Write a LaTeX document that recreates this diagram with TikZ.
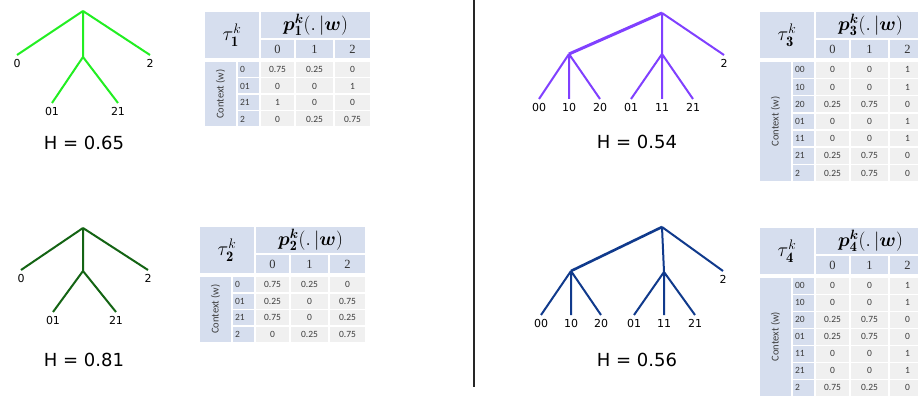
\documentclass[tikz,border=0pt]{standalone}
\usepackage{amsmath}
\usepackage{graphicx}
\usepackage{fontspec}
\newfontfamily\cfont{Carlito}
\newfontfamily\vfont{DejaVu Sans}
\newfontfamily\sfont{Liberation Serif}
\definecolor{hdrblue}{RGB}{214,222,238}
\definecolor{datgray}{RGB}{240,240,240}
\definecolor{tgreen}{RGB}{34,238,34}
\definecolor{tdgreen}{RGB}{20,100,20}
\definecolor{tpurple}{RGB}{128,64,255}
\definecolor{tnavy}{RGB}{16,58,140}
\definecolor{celltext}{RGB}{60,60,60}

\tikzset{
 cell/.style={rectangle, inner sep=0pt, outer sep=0pt, font=\cfont\fontsize{9.5}{10}\selectfont, text=celltext},
 hdr/.style={cell, fill=hdrblue},
 dat/.style={cell, fill=datgray},
 colhead/.style={hdr, minimum height=18pt, text=black!80, font=\sfont\fontsize{12.5}{13}\selectfont},
 branch/.style={line width=2pt},
 leaflab/.style={anchor=north, inner sep=0pt, yshift=-4.5pt, font=\vfont\fontsize{11}{12}\selectfont},
 hlab/.style={font=\vfont\fontsize{18}{20}\selectfont, inner sep=0pt},
}

% #1 id, #2 x0, #3 y0, #4 subscript, #5 nrows, #6 pitch, #7 rows
\newcommand\mytable[7]{%
\begin{scope}[shift={(#2,#3)}]
 \node[hdr, minimum width=54pt, minimum height=46pt, text=black, font=\fontsize{18}{20}\selectfont] (#1-tau) at (27,23) {\scalebox{1.15}{$\tau_{\mathbf{#4}}^{k}$}};
 \node[hdr, minimum width=109pt, minimum height=26pt, text=black, font=\fontsize{18}{20}\selectfont] (#1-p) at (110.5,13) {\scalebox{1.12}{$\boldsymbol{p}_{\mathbf{#4}}^{\boldsymbol{k}}(.\,|\boldsymbol{w})$}};
 \node[colhead, minimum width=33pt] (#1-h0) at (72.5,37) {0};
 \node[colhead, minimum width=37pt] (#1-h1) at (109.5,37) {1};
 \node[colhead, minimum width=35pt] (#1-h2) at (147.5,37) {2};
 \pgfmathsetmacro\ctxh{#5*#6-1.5}
 \pgfmathsetmacro\ctxy{50+\ctxh/2}
 \node[hdr, minimum width=\ctxh pt, minimum height=31pt, rotate=90, font=\cfont\fontsize{10.5}{12}\selectfont] (#1-ctx) at (15.5,\ctxy) {Context (w)};
 \foreach \lab/\a/\b/\c [count=\i] in {#7} {
   \pgfmathsetmacro\yc{50+(\i-1)*#6+(#6-1.5)/2}
   \pgfmathsetmacro\rh{#6-1.5}
   \node[hdr, minimum width=21pt, minimum height=\rh pt, text width=17pt, align=left] (#1-r\i-lab) at (43.5,\yc) {\lab};
   \node[dat, minimum width=33pt, minimum height=\rh pt] (#1-r\i-c0) at (72.5,\yc) {\a};
   \node[dat, minimum width=37pt, minimum height=\rh pt] (#1-r\i-c1) at (109.5,\yc) {\b};
   \node[dat, minimum width=35pt, minimum height=\rh pt] (#1-r\i-c2) at (147.5,\yc) {\c};
 }
\end{scope}}

\begin{document}
\begin{tikzpicture}[x=1pt,y=-1pt]
\fill[white] (0,0) rectangle (918,398);
\useasboundingbox (0,0) rectangle (918,398);

% ---------- Tree 1 ----------
\coordinate (t1r) at (83,11);
\coordinate (t1e0) at (17,55);
\coordinate (t1e2) at (150,55);
\coordinate (t1m) at (83,57);
\coordinate (t1e01) at (52,103);
\coordinate (t1e21) at (118,103);
\draw[branch, tgreen] (t1r) -- (t1e0) (t1r) -- (t1e2) (t1r) -- (t1m) (t1m) -- (t1e01) (t1m) -- (t1e21);
\node[leaflab] (t1l0) at (t1e0) {0};
\node[leaflab] (t1l2) at (t1e2) {2};
\node[leaflab] (t1l01) at (t1e01) {01};
\node[leaflab] (t1l21) at (t1e21) {21};
\node[hlab] (t1h) at (84,143) {H = 0.65};

% ---------- Tree 2 ----------
\coordinate (t2r) at (83,228);
\coordinate (t2e0) at (21,270);
\coordinate (t2e2) at (148,270);
\coordinate (t2m) at (83,271);
\coordinate (t2e01) at (53,312);
\coordinate (t2e21) at (116,312);
\draw[branch, tdgreen] (t2r) -- (t2e0) (t2r) -- (t2e2) (t2r) -- (t2m) (t2m) -- (t2e01) (t2m) -- (t2e21);
\node[leaflab] (t2l0) at (t2e0) {0};
\node[leaflab] (t2l2) at (t2e2) {2};
\node[leaflab] (t2l01) at (t2e01) {01};
\node[leaflab] (t2l21) at (t2e21) {21};
\node[hlab] (t2h) at (84,360) {H = 0.81};

% ---------- Tree 3 ----------
\coordinate (t3r) at (662,13);
\coordinate (t3a) at (569,54);
\coordinate (t3b) at (662,54);
\coordinate (t3e2) at (724,55);
\coordinate (t3e00) at (539,99);
\coordinate (t3e10) at (569,99);
\coordinate (t3e20) at (600,99);
\coordinate (t3e01) at (631,99);
\coordinate (t3e11) at (662,99);
\coordinate (t3e21) at (693,99);
\draw[line width=3pt, tpurple] (t3r) -- (t3a);
\draw[branch, tpurple] (t3r) -- (t3b) (t3r) -- (t3e2)
  (t3a) -- (t3e00) (t3a) -- (t3e10) (t3a) -- (t3e20)
  (t3b) -- (t3e01) (t3b) -- (t3e11) (t3b) -- (t3e21);
\node[leaflab] (t3l2) at (t3e2) {2};
\node[leaflab] (t3l00) at (t3e00) {00};
\node[leaflab] (t3l10) at (t3e10) {10};
\node[leaflab] (t3l20) at (t3e20) {20};
\node[leaflab] (t3l01) at (t3e01) {01};
\node[leaflab] (t3l11) at (t3e11) {11};
\node[leaflab] (t3l21) at (t3e21) {21};
\node[hlab] (t3h) at (637,142) {H = 0.54};

% ---------- Tree 4 ----------
\coordinate (t4r) at (662,227);
\coordinate (t4a) at (571,271);
\coordinate (t4b) at (664,272);
\coordinate (t4e2) at (723,271);
\coordinate (t4e00) at (541,315);
\coordinate (t4e10) at (571,315);
\coordinate (t4e20) at (601,315);
\coordinate (t4e01) at (634,315);
\coordinate (t4e11) at (664,315);
\coordinate (t4e21) at (695,315);
\draw[line width=2.6pt, tnavy] (t4r) -- (t4a);
\draw[branch, tnavy] (t4r) -- (t4b) (t4r) -- (t4e2)
  (t4a) -- (t4e00) (t4a) -- (t4e10) (t4a) -- (t4e20)
  (t4b) -- (t4e01) (t4b) -- (t4e11) (t4b) -- (t4e21);
\node[leaflab] (t4l2) at (t4e2) {2};
\node[leaflab] (t4l00) at (t4e00) {00};
\node[leaflab] (t4l10) at (t4e10) {10};
\node[leaflab] (t4l20) at (t4e20) {20};
\node[leaflab] (t4l01) at (t4e01) {01};
\node[leaflab] (t4l11) at (t4e11) {11};
\node[leaflab] (t4l21) at (t4e21) {21};
\node[hlab] (t4h) at (637,360) {H = 0.56};

% ---------- Divider ----------
\coordinate (dtop) at (474,0);
\coordinate (dbot) at (474,387);
\draw[line width=1.5pt, black!85] (dtop) -- (dbot);

% ---------- Tables ----------
\mytable{tab1}{205}{12}{1}{4}{16.5}{0/0.75/0.25/0, 01/0/0/1, 21/1/0/0, 2/0/0.25/0.75}
\mytable{tab2}{200}{227}{2}{4}{16.5}{0/0.75/0.25/0, 01/0.25/0/0.75, 21/0.75/0/0.25, 2/0/0.25/0.75}
\mytable{tab3}{760}{12}{3}{7}{17.2}{00/0/0/1, 10/0/0/1, 20/0.25/0.75/0, 01/0/0/1, 11/0/0/1, 21/0.25/0.75/0, 2/0.25/0.75/0}
\mytable{tab4}{760}{228}{4}{7}{17}{00/0/0/1, 10/0/0/1, 20/0.25/0.75/0, 01/0.25/0.75/0, 11/0/0/1, 21/0/0/1, 2/0.75/0.25/0}
\end{tikzpicture}
\end{document}
